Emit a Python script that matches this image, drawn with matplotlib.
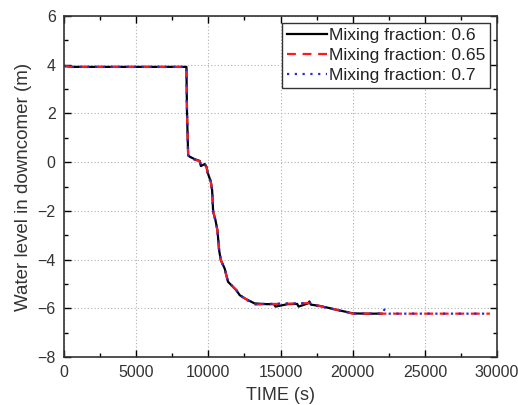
import matplotlib
matplotlib.use('Agg')
from matplotlib import pyplot as plt
from matplotlib.ticker import MultipleLocator

plt.rcParams['font.family'] = ['Liberation Sans', 'DejaVu Sans']

# time (s) and water level (m)
t_06 = [0, 300, 500, 2000, 5000, 8000, 8480, 8520, 8600, 8720, 9060, 9400, 9480,
        9750, 9870, 9960, 10170, 10260, 10330, 10490, 10630, 10740, 10860, 11130,
        11360, 11940, 12170, 12600, 13200, 14000, 14550, 14650, 15500, 16150,
        16250, 16900, 17000, 17100, 17700, 18300, 18860, 19500, 20010, 21000, 22000]
lv_06 = [3.95, 3.93, 3.91, 3.91, 3.91, 3.91, 3.91, 2.0, 0.28, 0.22, 0.12, 0.05, -0.16,
         -0.08, -0.19, -0.45, -0.8, -1.15, -2.04, -2.38, -2.8, -3.6, -4.02, -4.37,
         -4.91, -5.26, -5.46, -5.62, -5.8, -5.83, -5.83, -5.93, -5.83, -5.82,
         -5.93, -5.8, -5.72, -5.85, -5.9, -5.98, -6.06, -6.14, -6.21, -6.22, -6.22]

t_065 = [0, 300, 500, 2000, 5000, 8000, 8480, 8520, 8600, 8720, 9060, 9400, 9480,
         9750, 9870, 9960, 10170, 10260, 10330, 10490, 10630, 10740, 10860, 11130,
         11360, 11940, 12170, 12600, 13100, 14000, 15500, 16500, 17000, 17200, 17800,
         18300, 18860, 19500, 20010, 21000, 22000, 25000, 29500]
lv_065 = [3.95, 3.93, 3.91, 3.91, 3.91, 3.91, 3.91, 2.0, 0.28, 0.2, 0.1, 0.04, -0.14,
          -0.1, -0.2, -0.45, -0.82, -1.15, -2.0, -2.4, -2.82, -3.6, -4.0, -4.4,
          -4.92, -5.25, -5.47, -5.62, -5.85, -5.83, -5.81, -5.8, -5.78, -5.84, -5.92,
          -5.99, -6.05, -6.15, -6.22, -6.22, -6.22, -6.22, -6.22]

t_07 = [0, 300, 500, 2000, 5000, 8000, 8480, 8520, 8600, 8720, 9060, 9400, 9480,
        9750, 9870, 9960, 10170, 10260, 10330, 10490, 10630, 10740, 10860, 11130,
        11360, 11940, 12170, 12600, 13200, 14000, 15500, 16500, 17000, 17200, 17900,
        18300, 18860, 19500, 20010, 21000, 22000, 22200, 22350, 22500, 25000, 29500]
lv_07 = [3.95, 3.93, 3.91, 3.91, 3.91, 3.91, 3.91, 2.0, 0.28, 0.21, 0.11, 0.05, -0.15,
         -0.09, -0.19, -0.44, -0.8, -1.14, -2.02, -2.39, -2.8, -3.58, -4.02, -4.38,
         -4.9, -5.27, -5.46, -5.63, -5.82, -5.82, -5.8, -5.79, -5.77, -5.86, -5.95,
         -5.98, -6.07, -6.14, -6.21, -6.22, -6.22, -6.05, -6.2, -6.22, -6.22, -6.22]

labels = ['Mixing fraction: 0.6', 'Mixing fraction: 0.65', 'Mixing fraction: 0.7']

fig = plt.figure(figsize=(5.18, 4.05), dpi=100)
ax = fig.add_axes([0.1236, 0.1185, 0.836, 0.842])

ax.plot(t_06, lv_06, color='black', lw=1.6, ls='-', label=labels[0])
ax.plot(t_065, lv_065, color='#ff1a1a', lw=1.6, ls=(0, (4, 3)), label=labels[1])
ax.plot(t_07, lv_07, color='#2a2acc', lw=1.6, ls=(0, (1, 2.5)), label=labels[2])

ax.set_xlim(0, 30000)
ax.set_ylim(-8, 6)
ax.xaxis.set_major_locator(MultipleLocator(5000))
ax.xaxis.set_minor_locator(MultipleLocator(2500))
ax.yaxis.set_major_locator(MultipleLocator(2))
ax.yaxis.set_minor_locator(MultipleLocator(1))
ax.tick_params(which='both', direction='in', top=True, right=True,
               labelsize=11.5, labelcolor='#333333', width=1)
ax.tick_params(which='major', length=5, pad=6)
ax.tick_params(which='minor', length=3)
ax.grid(True, which='major', color='#b0b0b0', ls=(0, (1, 2)), lw=0.8)
for s in ax.spines.values():
    s.set_linewidth(1.2)
    s.set_color('#333333')

ax.set_xlabel('TIME (s)', fontsize=13, color='#333333', labelpad=5)
ax.set_ylabel('Water level in downcomer (m)', fontsize=13.5, color='#333333', labelpad=4)

leg = ax.legend(loc='upper right', fontsize=12.6, fancybox=False, edgecolor='#333333',
                framealpha=1, handlelength=2.3, handletextpad=0.1, labelspacing=0.26,
                borderpad=0.28, borderaxespad=0.4)
leg.get_frame().set_linewidth(1)
for txt in leg.get_texts():
    txt.set_color('#222222')

fig.savefig('out.png', dpi=100)
